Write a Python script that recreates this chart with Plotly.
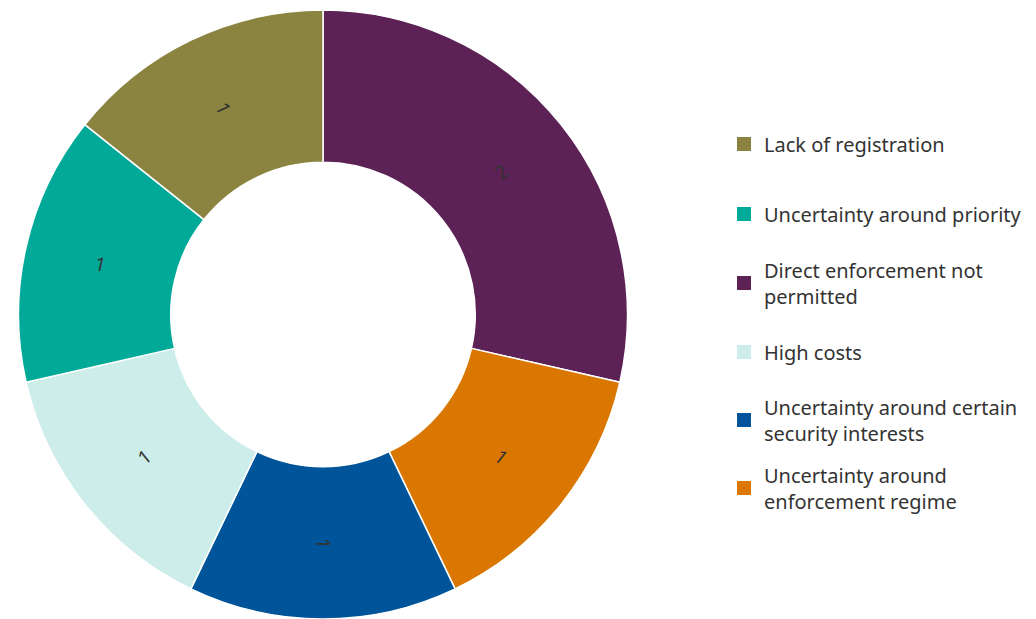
import math
import plotly.graph_objects as go

# Slice data, in clockwise order starting at 12 o'clock
slice_labels = [
    "Direct enforcement not permitted",
    "Uncertainty around enforcement regime",
    "Uncertainty around certain security interests",
    "High costs",
    "Uncertainty around priority",
    "Lack of registration",
]
slice_values = [2, 1, 1, 1, 1, 1]
slice_colors = ["#5c2155", "#d97700", "#00559a", "#cdedea", "#00a998", "#8b8441"]

# Legend entries, in display order (top to bottom)
legend_labels = [
    "Lack of registration",
    "Uncertainty around priority",
    "Direct enforcement not<br>permitted",
    "High costs",
    "Uncertainty around certain<br>security interests",
    "Uncertainty around<br>enforcement regime",
]
legend_colors = ["#8b8441", "#00a998", "#5c2155", "#cdedea", "#00559a", "#d97700"]

W, H = 1036, 619
TOP = 10
PLOT_H = H - TOP
FONT = "Noto Sans, Open Sans, sans-serif"
HOLE = 0.5
DOMAIN_X = [18 / W, 628 / W]

fig = go.Figure()
fig.add_trace(go.Pie(
    labels=slice_labels,
    values=slice_values,
    sort=False,
    direction="clockwise",
    rotation=0,
    hole=HOLE,
    marker=dict(colors=slice_colors, line=dict(color="white", width=1.5)),
    textinfo="none",
    domain=dict(x=DOMAIN_X, y=[0, 1]),
    showlegend=False,
    hoverinfo="label+value",
))

# Value labels: radially oriented, centred in the middle of each ring segment
cx_px = (DOMAIN_X[0] + DOMAIN_X[1]) / 2 * W
radius_px = PLOT_H / 2
label_r = (HOLE + 1) / 2 * radius_px
total = sum(slice_values)
cum = 0
annotations = []
for v in slice_values:
    theta = (cum + v / 2) / total * 360  # degrees clockwise from 12 o'clock
    cum += v
    t = math.radians(theta)
    ang = theta - 90 if theta <= 180 else theta - 270
    annotations.append(dict(
        x=(cx_px + label_r * math.sin(t)) / W,
        y=0.5 + label_r * math.cos(t) / PLOT_H,
        xref="paper", yref="paper",
        text=str(v), showarrow=False, textangle=ang,
        xanchor="center", yanchor="middle",
        font=dict(family=FONT, size=19, color="#333333"),
    ))

# One small legend per entry so each sits in an evenly spaced slot
slot_centers = [144, 214, 283, 352, 420, 488]
layout_legends = {}
for i, (name, col, yc) in enumerate(zip(legend_labels, legend_colors, slot_centers)):
    key = "legend" if i == 0 else f"legend{i + 1}"
    fig.add_trace(go.Scatter(
        x=[None], y=[None], mode="markers", name=name,
        marker=dict(symbol="square", size=14, color=col, line=dict(width=0)),
        legend=key, showlegend=True, hoverinfo="skip",
    ))
    layout_legends[key] = dict(
        x=724 / W, xanchor="left",
        y=(H - yc) / PLOT_H, yanchor="middle",
        font=dict(family=FONT, size=20, color="#333333"),
        bgcolor="rgba(0,0,0,0)", borderwidth=0,
        valign="middle",
    )

fig.update_layout(
    width=W, height=H,
    margin=dict(l=0, r=0, t=TOP, b=0),
    paper_bgcolor="white",
    plot_bgcolor="white",
    xaxis=dict(visible=False),
    yaxis=dict(visible=False),
    annotations=annotations,
    **layout_legends,
)

fig.write_html("out.html")
